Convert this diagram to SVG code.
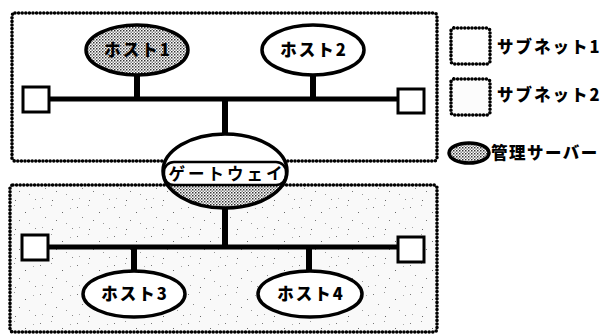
<svg xmlns="http://www.w3.org/2000/svg" width="608" height="336" viewBox="0 0 608 336">
  <defs>
    <!-- stipple used for the management server fill -->
    <pattern id="stipple" width="3" height="3" patternUnits="userSpaceOnUse">
      <rect width="3" height="3" fill="#ffffff"/>
      <rect x="0" y="0" width="1.5" height="1.5" fill="#333"/>
      <rect x="1.5" y="1.5" width="1.5" height="1.5" fill="#888"/>
    </pattern>
    <!-- sparse grain used for subnet 2 -->
    <pattern id="grain" width="37" height="29" patternUnits="userSpaceOnUse">
      <rect width="37" height="29" fill="#f9f9f9"/>
      <rect x="3" y="4" width="1" height="1" fill="#777"/>
      <rect x="14" y="2" width="1" height="1" fill="#999"/>
      <rect x="25" y="9" width="1" height="1" fill="#666"/>
      <rect x="33" y="5" width="1" height="1" fill="#aaa"/>
      <rect x="8" y="14" width="1" height="1" fill="#888"/>
      <rect x="19" y="17" width="1" height="1" fill="#777"/>
      <rect x="29" y="20" width="1" height="1" fill="#999"/>
      <rect x="5" y="24" width="1" height="1" fill="#aaa"/>
      <rect x="15" y="26" width="1" height="1" fill="#666"/>
      <rect x="35" y="25" width="1" height="1" fill="#888"/>
    </pattern>
    <clipPath id="gwLower">
      <rect x="150" y="185" width="150" height="30"/>
    </clipPath>
  </defs>
  <style>
    .subnet { stroke: #000; stroke-width: 3.6; stroke-dasharray: 0 3.6; stroke-linecap: round; stroke-linejoin: round; }
    .bus { stroke: #000; stroke-width: 5; fill: none; }
    .stem { stroke: #000; stroke-width: 6; fill: none; }
    .term { fill: #fff; stroke: #000; stroke-width: 3; }
    .host { fill: #fff; stroke: #000; stroke-width: 3.5; }
    .label { font-family: "Noto Sans CJK JP", "Liberation Sans", sans-serif; font-weight: 900; font-size: 16.5px; letter-spacing: 2px; fill: #000; }
  </style>

  <!-- subnets -->
  <g id="subnet1">
    <rect class="subnet" x="12" y="13" width="425" height="148" rx="3" fill="#fff"/>
  </g>
  <g id="subnet2">
    <rect class="subnet" x="10" y="185" width="427" height="147" rx="3" fill="url(#grain)"/>
  </g>

  <!-- connectors -->
  <g id="connectors">
    <line class="bus" x1="48" y1="99" x2="400" y2="99"/>
    <line class="bus" x1="46" y1="247" x2="400" y2="247"/>
    <line class="stem" x1="137" y1="75" x2="137" y2="99"/>
    <line class="stem" x1="313" y1="75" x2="313" y2="99"/>
    <line class="stem" x1="225" y1="99" x2="225" y2="136"/>
    <line class="stem" x1="225" y1="206" x2="225" y2="247"/>
    <line class="stem" x1="134" y1="247" x2="134" y2="272"/>
    <line class="stem" x1="309" y1="247" x2="309" y2="272"/>
  </g>

  <!-- terminators -->
  <g id="term-tl"><rect class="term" x="23" y="87" width="26" height="25"/></g>
  <g id="term-tr"><rect class="term" x="398" y="89" width="26" height="24"/></g>
  <g id="term-bl"><rect class="term" x="22" y="235" width="26" height="25"/></g>
  <g id="term-br"><rect class="term" x="398" y="237" width="26" height="25"/></g>

  <!-- hosts -->
  <g id="host1">
    <ellipse class="host" cx="137" cy="50" rx="51" ry="25" style="fill:url(#stipple)"/>
    <text class="label" x="138" y="56" text-anchor="middle">ホスト1</text>
  </g>
  <g id="host2">
    <ellipse class="host" cx="313" cy="50" rx="51" ry="25"/>
    <text class="label" x="314" y="56" text-anchor="middle">ホスト2</text>
  </g>
  <g id="host3">
    <ellipse class="host" cx="134" cy="294" rx="51" ry="23"/>
    <text class="label" x="135" y="300" text-anchor="middle">ホスト3</text>
  </g>
  <g id="host4">
    <ellipse class="host" cx="310" cy="294" rx="52" ry="23"/>
    <text class="label" x="311" y="300" text-anchor="middle">ホスト4</text>
  </g>

  <!-- gateway: upper white, labelled band, stippled lower part -->
  <g id="gateway">
    <ellipse cx="225" cy="171" rx="62" ry="37" fill="#fff"/>
    <ellipse cx="225" cy="171" rx="62" ry="37" fill="url(#stipple)" clip-path="url(#gwLower)"/>
    <rect x="164" y="162" width="122" height="23" rx="10" fill="#fff" stroke="#000" stroke-width="2.5"/>
    <ellipse cx="225" cy="171" rx="62" ry="37" fill="none" stroke="#000" stroke-width="3.5"/>
    <text class="label" x="227" y="180" text-anchor="middle" style="font-weight:700;letter-spacing:3px">ゲートウェイ</text>
  </g>

  <!-- legend -->
  <g id="legend-subnet1">
    <rect class="subnet" x="451" y="28" width="39" height="36" rx="3" fill="#fff"/>
    <text class="label" x="497" y="53">サブネット1</text>
  </g>
  <g id="legend-subnet2">
    <rect class="subnet" x="451" y="79" width="39" height="36" rx="3" fill="#fcfcfc"/>
    <text class="label" x="497" y="101">サブネット2</text>
  </g>
  <g id="legend-server">
    <ellipse cx="469" cy="153" rx="20" ry="10" fill="url(#stipple)" stroke="#000" stroke-width="3.5"/>
    <text class="label" x="491" y="159" style="letter-spacing:1.5px">管理サーバー</text>
  </g>
</svg>
